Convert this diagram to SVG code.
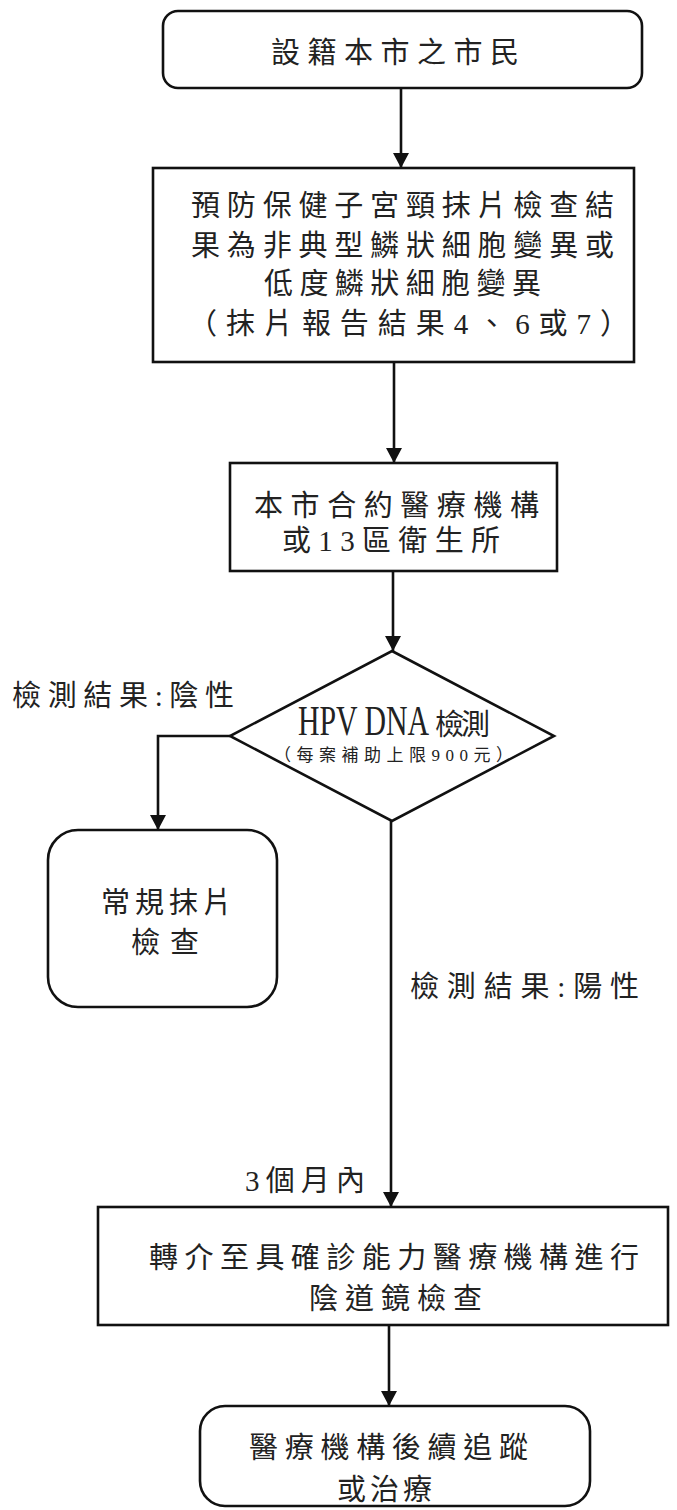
<svg xmlns="http://www.w3.org/2000/svg" width="677" height="1510" viewBox="0 0 677 1510">
<defs>
<style>
.box{fill:#fff;stroke:#111;stroke-width:2.6}
.conn{fill:none;stroke:#111;stroke-width:2.6}
.t{font-family:"Liberation Serif","Noto Sans CJK TC","Noto Sans CJK SC",serif;font-size:29px;fill:#222}
.s{font-size:17px}
</style>
<marker id="arr" markerUnits="userSpaceOnUse" markerWidth="16" markerHeight="16" refX="15" refY="8" orient="auto">
<path d="M0,0 L15,8 L0,16 Z" fill="#111"/>
</marker>
</defs>
<rect width="677" height="1510" fill="#fff"/>
<g id="connectors">
<line class="conn" x1="401" y1="88" x2="401" y2="168" marker-end="url(#arr)"/>
<line class="conn" x1="394" y1="362" x2="394" y2="463" marker-end="url(#arr)"/>
<line class="conn" x1="393" y1="571" x2="393" y2="651" marker-end="url(#arr)"/>
<polyline class="conn" points="230,736 158,736 158,830" marker-end="url(#arr)"/>
<line class="conn" x1="391" y1="821" x2="391" y2="1207" marker-end="url(#arr)"/>
<line class="conn" x1="389" y1="1325" x2="389" y2="1406" marker-end="url(#arr)"/>
</g>
<g id="n1">
<rect class="box" x="163" y="11" width="479" height="77" rx="15"/>
<text class="t" x="271" y="63" textLength="248" lengthAdjust="spacing">設籍本市之市民</text>
</g>
<g id="n2">
<rect class="box" x="153" y="168" width="481" height="194"/>
<text class="t" x="191" y="216" textLength="423" lengthAdjust="spacing">預防保健子宮頸抹片檢查結</text>
<text class="t" x="191" y="256" textLength="423" lengthAdjust="spacing">果為非典型鱗狀細胞變異或</text>
<text class="t" x="264" y="294" textLength="277" lengthAdjust="spacing">低度鱗狀細胞變異</text>
<text class="t" x="188" y="334" textLength="441" lengthAdjust="spacing">（抹片報告結果4、6或7）</text>
</g>
<g id="n3">
<rect class="box" x="230" y="463" width="327" height="108"/>
<text class="t" x="254" y="516" textLength="285" lengthAdjust="spacing">本市合約醫療機構</text>
<text class="t" x="282" y="551" textLength="218" lengthAdjust="spacing">或13區衛生所</text>
</g>
<g id="n4">
<polygon class="box" points="392,651 554,736 392,821 230,736"/>
<text class="t" transform="matrix(0.71,0,0,1,298,735)" x="0" y="0" style="font-size:42px">HPV DNA</text>
<text class="t" x="435" y="735" textLength="55" lengthAdjust="spacing">檢測</text>
<text class="t s" x="274" y="761" textLength="239" lengthAdjust="spacing">（每案補助上限900元）</text>
</g>
<g id="lbl-neg">
<text class="t" x="12" y="706" textLength="222" lengthAdjust="spacing">檢測結果:陰性</text>
</g>
<g id="n5">
<rect class="box" x="48" y="830" width="229" height="177" rx="30"/>
<text class="t" x="101" y="913" textLength="131" lengthAdjust="spacing">常規抹片</text>
<text class="t" x="131" y="953" textLength="68" lengthAdjust="spacing">檢查</text>
</g>
<g id="lbl-pos">
<text class="t" x="410" y="997" textLength="229" lengthAdjust="spacing">檢測結果:陽性</text>
</g>
<g id="lbl-3m">
<text class="t" x="245" y="1191" textLength="120" lengthAdjust="spacing">3個月內</text>
</g>
<g id="n6">
<rect class="box" x="98" y="1207" width="570" height="118"/>
<text class="t" x="149" y="1268" textLength="490" lengthAdjust="spacing">轉介至具確診能力醫療機構進行</text>
<text class="t" x="309" y="1309" textLength="173" lengthAdjust="spacing">陰道鏡檢查</text>
</g>
<g id="n7">
<rect class="box" x="200" y="1406" width="390" height="100" rx="25"/>
<text class="t" x="249" y="1458" textLength="279" lengthAdjust="spacing">醫療機構後續追蹤</text>
<text class="t" x="337" y="1500" textLength="95" lengthAdjust="spacing">或治療</text>
</g>
</svg>
